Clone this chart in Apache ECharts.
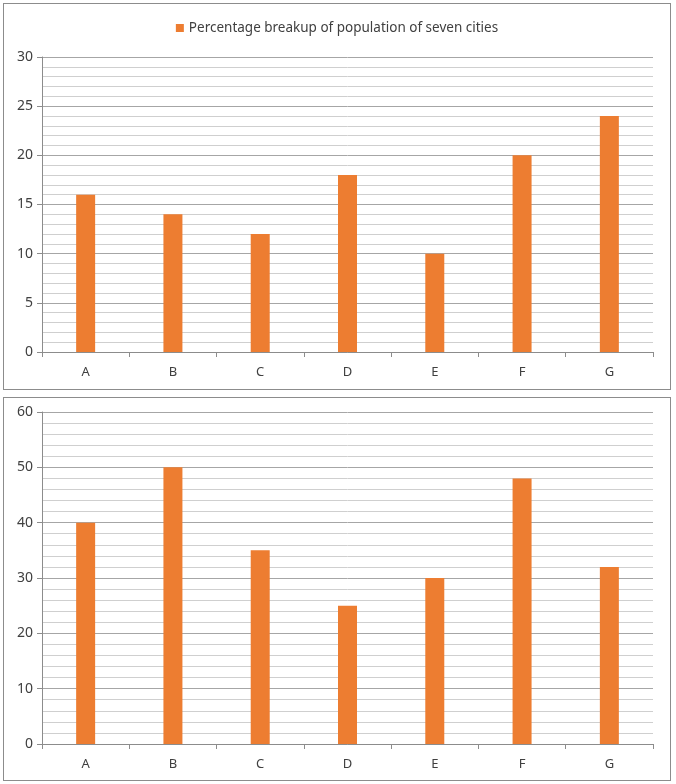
<!DOCTYPE html>
<html>
<head>
<meta charset="utf-8">
<script src="https://cdn.jsdelivr.net/npm/echarts@6/dist/echarts.min.js"></script>
<style>
  body { margin: 0; background: #fff; }
  .box { position: absolute; left: 3px; width: 666px; border: 1px solid #8c8c8c; background: #fff; }
  #top { top: 3px; height: 385px; }
  #bottom { top: 397px; height: 382px; }
</style>
</head>
<body>
<div id="top" class="box"></div>
<div id="bottom" class="box"></div>
<script>
// 城市
const cities = ['A', 'B', 'C', 'D', 'E', 'F', 'G'];
// 上图：七个城市人口百分比
const popShare = [16, 14, 12, 18, 10, 20, 24];
// 下图
const lowerValues = [40, 50, 35, 25, 30, 48, 32];
const legendName = 'Percentage breakup of population of seven cities';

const font = 'Noto Sans';
const barColor = '#ED7D31';

function makeOption(values, max, interval, grid, withLegend) {
  return {
    animation: false,
    textStyle: { fontFamily: font },
    legend: withLegend ? {
      show: true,
      top: 12,
      left: 'center',
      icon: 'rect',
      itemWidth: 8,
      itemHeight: 8,
      itemGap: 6,
      data: [legendName],
      textStyle: { fontFamily: font, fontSize: 13.5, color: '#404040' }
    } : { show: false },
    grid: grid,
    xAxis: {
      type: 'category',
      data: cities,
      axisLine: { lineStyle: { color: '#8c8c8c' } },
      axisTick: { show: true, length: 5, lineStyle: { color: '#8c8c8c' } },
      axisLabel: { color: '#404040', fontFamily: font, fontSize: 13, margin: 14 }
    },
    yAxis: {
      type: 'value',
      min: 0,
      max: max,
      interval: interval,
      axisLine: { show: true, lineStyle: { color: '#8c8c8c' } },
      axisTick: { show: true, length: 5, lineStyle: { color: '#8c8c8c' } },
      axisLabel: { color: '#404040', fontFamily: font, fontSize: 14, margin: 9 },
      splitLine: { lineStyle: { color: '#a6a6a6' } },
      minorTick: { show: false, splitNumber: 5 },
      minorSplitLine: { show: true, lineStyle: { color: '#cfcfcf' } }
    },
    series: [{
      name: legendName,
      type: 'bar',
      data: values,
      barWidth: 19,
      itemStyle: { color: barColor }
    }]
  };
}

const chartTop = echarts.init(document.getElementById('top'));
chartTop.setOption(makeOption(popShare, 30, 5,
  { left: 38, right: 17, top: 53, bottom: 37 }, true));

const chartBottom = echarts.init(document.getElementById('bottom'));
chartBottom.setOption(makeOption(lowerValues, 60, 10,
  { left: 38, right: 17, top: 14, bottom: 36 }, false));
</script>
</body>
</html>
